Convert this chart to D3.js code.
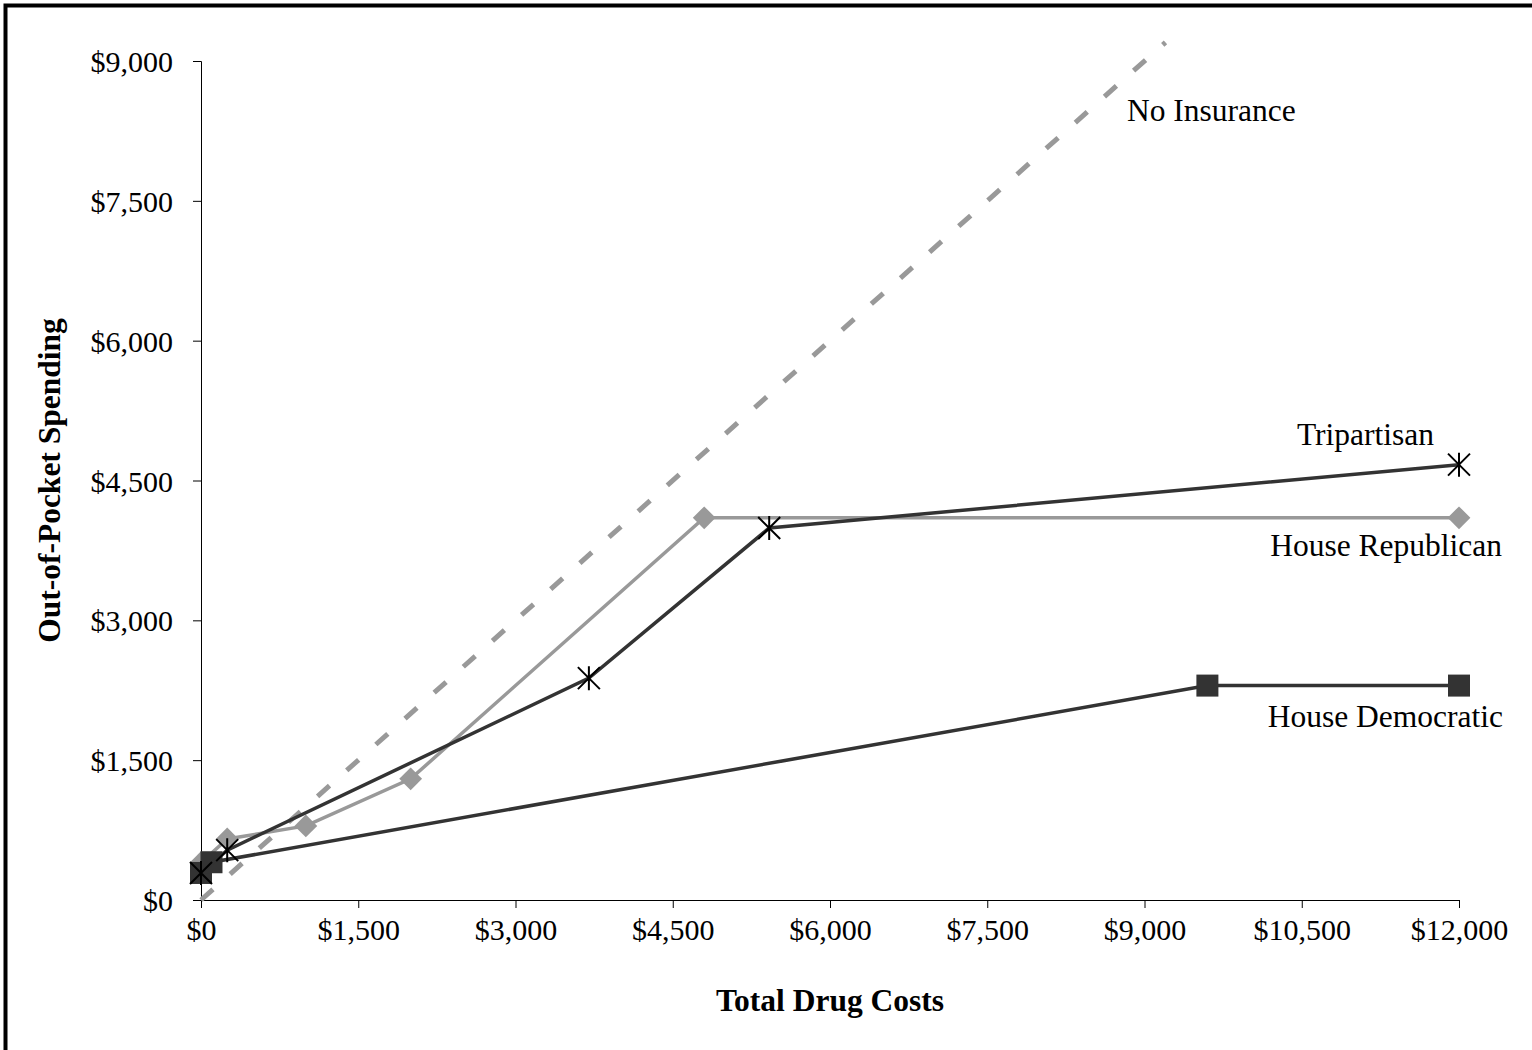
<!DOCTYPE html>
<html>
<head>
<meta charset="utf-8">
<script src="https://cdn.jsdelivr.net/npm/d3@7"></script>
<style>
  body { margin: 0; background: #fff; }
  svg { display: block; }
  text { font-family: "Liberation Serif", "Times New Roman", serif; fill: #000; }
</style>
</head>
<body>
<script>
// values (dollars)
let xTicks = [0, 1500, 3000, 4500, 6000, 7500, 9000, 10500, 12000];
let yTicks = [0, 1500, 3000, 4500, 6000, 7500, 9000];

let noInsurance = [[0, 0], [9200, 9200]];
let houseRepublican = [[0, 400], [250, 655], [1000, 795], [2000, 1300], [4800, 4100], [12000, 4100]];
let houseDemocratic = [[0, 290], [100, 405], [9600, 2300], [12000, 2300]];
let tripartisan = [[0, 290], [250, 535], [3700, 2380], [5420, 3990], [12000, 4670]];

let seriesNames = ['No Insurance', 'House Republican', 'House Democratic', 'Tripartisan'];

let W = 1532, H = 1050;
let margin = {top: 61, right: 73, bottom: 150, left: 201};
let width = W - margin.left - margin.right,
    height = H - margin.top - margin.bottom;

let svg = d3.select('body').append('svg')
    .attr('width', W)
    .attr('height', H);

// frame (only left and top edges fall inside the picture)
svg.append('path')
    .attr('d', 'M5.5,' + H + 'V5.5H' + W)
    .attr('fill', 'none')
    .attr('stroke', '#000')
    .attr('stroke-width', 4);

let g = svg.append('g')
    .attr('transform', 'translate(' + margin.left + ',' + margin.top + ')');

let x = d3.scaleLinear().domain([0, 12000]).range([0, width]);
let y = d3.scaleLinear().domain([0, 9000]).range([height, 0]);
let fmt = d => '$' + d3.format(',')(d);

let xAxis = g.append('g')
    .attr('transform', 'translate(0,' + height + ')')
    .call(d3.axisBottom(x).tickValues(xTicks).tickFormat(fmt).tickSize(8).tickPadding(11));
let yAxis = g.append('g')
    .call(d3.axisLeft(y).tickValues(yTicks).tickFormat(fmt).tickSize(8).tickPadding(20));

[xAxis, yAxis].forEach(a => {
    a.select('.domain').attr('stroke', '#000').attr('stroke-width', 1);
    a.selectAll('.tick line').attr('stroke', '#000');
    a.selectAll('text')
        .style('font-family', '"Liberation Serif", serif')
        .style('font-size', '30px');
});
xAxis.selectAll('text').attr('dy', '0.71em');
yAxis.selectAll('text').attr('dy', '0.35em');

let line = d3.line().x(d => x(d[0])).y(d => y(d[1]));

// No insurance, dashed grey
g.append('path').datum(noInsurance)
    .attr('d', line)
    .attr('fill', 'none')
    .attr('stroke', '#999')
    .attr('stroke-width', 5)
    .attr('stroke-dasharray', '16,23');

// House Republican: grey line with diamonds
g.append('path').datum(houseRepublican)
    .attr('d', line)
    .attr('fill', 'none')
    .attr('stroke', '#999')
    .attr('stroke-width', 3.5);
g.selectAll('.diamond').data(houseRepublican).enter().append('path')
    .attr('class', 'diamond')
    .attr('d', d3.symbol().type(d3.symbolSquare).size(260))
    .attr('transform', d => 'translate(' + x(d[0]) + ',' + y(d[1]) + ') rotate(45)')
    .attr('fill', '#999');

// House Democratic: dark line with squares
g.append('path').datum(houseDemocratic)
    .attr('d', line)
    .attr('fill', 'none')
    .attr('stroke', '#333')
    .attr('stroke-width', 3.5);
g.selectAll('.square').data(houseDemocratic).enter().append('rect')
    .attr('class', 'square')
    .attr('x', d => x(d[0]) - 11)
    .attr('y', d => y(d[1]) - 11)
    .attr('width', 22)
    .attr('height', 22)
    .attr('fill', '#333');

// Tripartisan: dark line with asterisks
g.append('path').datum(tripartisan)
    .attr('d', line)
    .attr('fill', 'none')
    .attr('stroke', '#333')
    .attr('stroke-width', 3.5);
let star = 'M-11,-11L11,11M-11,11L11,-11M0,-12V12';
g.selectAll('.star').data(tripartisan).enter().append('path')
    .attr('class', 'star')
    .attr('d', star)
    .attr('transform', d => 'translate(' + x(d[0]) + ',' + y(d[1]) + ')')
    .attr('fill', 'none')
    .attr('stroke', '#000')
    .attr('stroke-width', 2);

// series labels
let labelAt = [
    [1127 - margin.left, 121 - margin.top, 'start'],
    [1502 - margin.left, 556 - margin.top, 'end'],
    [1503 - margin.left, 727 - margin.top, 'end'],
    [1434 - margin.left, 445 - margin.top, 'end']
];
labelAt.forEach((l, i) => {
    g.append('text')
        .attr('x', l[0])
        .attr('y', l[1])
        .attr('text-anchor', l[2])
        .style('font-size', '31.5px')
        .text(seriesNames[i]);
});

// axis titles
svg.append('text')
    .attr('x', margin.left + width / 2)
    .attr('y', 1011)
    .attr('text-anchor', 'middle')
    .style('font-size', '31.5px')
    .style('font-weight', 'bold')
    .text('Total Drug Costs');

svg.append('text')
    .attr('transform', 'translate(60,' + (margin.top + height / 2) + ') rotate(-90)')
    .attr('text-anchor', 'middle')
    .style('font-size', '31.5px')
    .style('font-weight', 'bold')
    .text('Out-of-Pocket Spending');
</script>
</body>
</html>
